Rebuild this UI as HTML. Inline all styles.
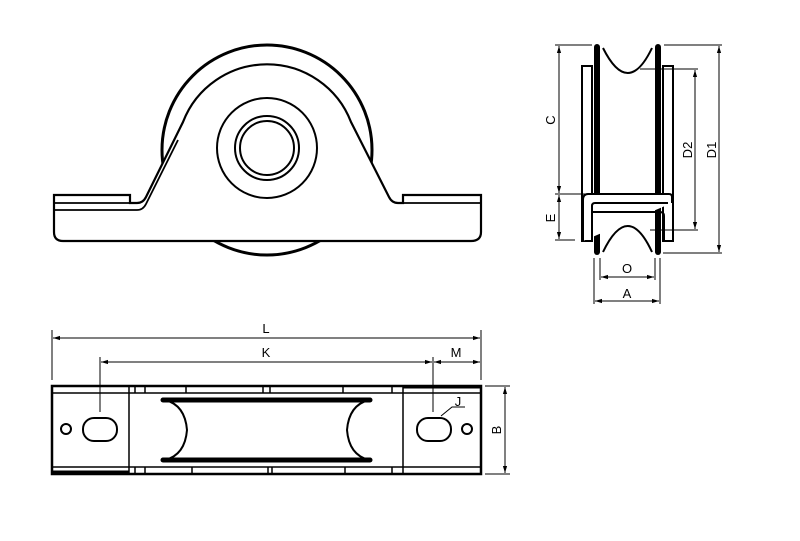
<!DOCTYPE html>
<html><head><style>html,body{margin:0;padding:0;background:#fff}svg{display:block}</style></head>
<body>
<svg width="800" height="541" viewBox="0 0 800 541" xmlns="http://www.w3.org/2000/svg" font-family="Liberation Sans, sans-serif" font-size="13">
<defs>
<marker id="a" viewBox="0 0 10 10" refX="10" refY="5" markerWidth="7" markerHeight="7" orient="auto-start-reverse"><path d="M0,2 L10,5 L0,8 z" fill="#000"/></marker>
</defs>
<g fill="none" stroke="#000">
<!-- FRONT VIEW -->
<circle cx="267" cy="150" r="105" stroke-width="3"/>
<path d="M54,211 L54,232 Q54,241 63,241 L471,241 Q481,241 481,232 L481,195 L403,195 L403,203 L398,203 Q392,203 389,197 L351,122 A90,90 0 0 0 183,122 L146,197 Q143,203 137,203 L130,203 L130,195 L54,195 Z" fill="#fff" stroke-width="2.2"/>
<path d="M54,203 L130,203 M54,210 L137,210 Q143,210 146,204 L178,140 M403,203 L481,203" stroke-width="1.8"/>
<rect x="213" y="241" width="108" height="0" />
<circle cx="267" cy="148" r="50" stroke-width="2"/>
<circle cx="267" cy="148" r="32" stroke-width="2"/>
<circle cx="267" cy="148" r="27" stroke-width="2"/>

<!-- SIDE VIEW -->
<rect x="582" y="66" width="10" height="175" stroke-width="2"/>
<rect x="663" y="66" width="10" height="175" stroke-width="2"/>
<path d="M592,86 L592,186 M663,86 L663,186" stroke-width="1.2"/>
<path d="M603,48 Q628,98 652,48" stroke-width="2"/>
<path d="M603,252 Q628,200 652,252" stroke-width="2"/>
<line x1="597" y1="47" x2="597" y2="252" stroke-width="6" stroke-linecap="round"/>
<line x1="658" y1="47" x2="658" y2="252" stroke-width="6" stroke-linecap="round"/>
<path d="M672,203 L672,197 Q672,194 669,194 L588,194 Q583,194 583,200 L583,241" stroke-width="2" fill="#fff"/>
<path d="M592,241 L592,206 Q592,203 595,203 L668,203" stroke-width="2"/>
<path d="M592,212 L660,212 Q664,212 664,216 L664,241" stroke-width="2"/>
<!-- side dims -->
<g stroke-width="1">
<path d="M555,45 L592,45 M664,45 L722,45 M555,194 L590,194 M555,240 L575,240 M640,69 L698,69 M650,230 L698,230 M663,253 L722,253"/>
<path d="M594,258 L594,304 M660,258 L660,304 M600,258 L600,280 M655,258 L655,280"/>
<line x1="559" y1="46" x2="559" y2="193" marker-start="url(#a)" marker-end="url(#a)"/>
<line x1="559" y1="195" x2="559" y2="239" marker-start="url(#a)" marker-end="url(#a)"/>
<line x1="695" y1="70" x2="695" y2="229" marker-start="url(#a)" marker-end="url(#a)"/>
<line x1="719" y1="46" x2="719" y2="252" marker-start="url(#a)" marker-end="url(#a)"/>
<line x1="601" y1="277" x2="654" y2="277" marker-start="url(#a)" marker-end="url(#a)"/>
<line x1="595" y1="301" x2="659" y2="301" marker-start="url(#a)" marker-end="url(#a)"/>
</g>

<!-- TOP VIEW -->
<rect x="52" y="386" width="429" height="88" stroke-width="2.5"/>
<path d="M52,393 L481,393 M52,467 L481,467 M129,386 L129,474 M403,386 L403,474 M135,386 L135,393 M145,386 L145,393 M186,386 L186,393 M263,386 L263,393 M270,386 L270,393 M343,386 L343,393 M392,386 L392,393 M135,467 L135,474 M145,467 L145,474 M192,467 L192,474 M268,467 L268,474 M272,467 L272,474 M345,467 L345,474 M392,467 L392,474" stroke-width="1.5"/>
<line x1="403" y1="387" x2="481" y2="387" stroke-width="3"/>
<line x1="52" y1="472" x2="129" y2="472" stroke-width="3"/>
<path d="M165,400 Q185,405 187,430 Q185,455 165,460" stroke-width="2"/>
<path d="M369,400 Q349,405 347,430 Q349,455 369,460" stroke-width="2"/>
<line x1="163" y1="400" x2="370" y2="400" stroke-width="5" stroke-linecap="round"/>
<line x1="163" y1="460" x2="370" y2="460" stroke-width="5" stroke-linecap="round"/>
<circle cx="66" cy="429" r="5" stroke-width="2"/>
<circle cx="467" cy="429" r="5" stroke-width="2"/>
<rect x="83" y="418" width="34" height="23" rx="11" stroke-width="2"/>
<rect x="417" y="418" width="34" height="23" rx="11" stroke-width="2"/>
<g stroke-width="1">
<path d="M52,330 L52,380 M481,330 L481,380 M100,357 L100,412 M433,357 L433,412 M485,386 L510,386 M485,474 L510,474 M441,416 L452,407 L465,407"/>
<line x1="53" y1="338" x2="480" y2="338" marker-start="url(#a)" marker-end="url(#a)"/>
<line x1="101" y1="362" x2="432" y2="362" marker-start="url(#a)" marker-end="url(#a)"/>
<line x1="434" y1="362" x2="480" y2="362" marker-start="url(#a)" marker-end="url(#a)"/>
<line x1="505" y1="387" x2="505" y2="473" marker-start="url(#a)" marker-end="url(#a)"/>
</g>
</g>
<g fill="#000" text-anchor="middle">
<text x="266" y="333">L</text>
<text x="266" y="357">K</text>
<text x="456" y="357">M</text>
<text x="458" y="406">J</text>
<text x="627" y="273">O</text>
<text x="627" y="298">A</text>
<text transform="translate(501,430) rotate(-90)">B</text>
<text transform="translate(555,120) rotate(-90)">C</text>
<text transform="translate(555,218) rotate(-90)">E</text>
<text transform="translate(692,150) rotate(-90)">D2</text>
<text transform="translate(716,150) rotate(-90)">D1</text>
</g>
</svg>
</body></html>
